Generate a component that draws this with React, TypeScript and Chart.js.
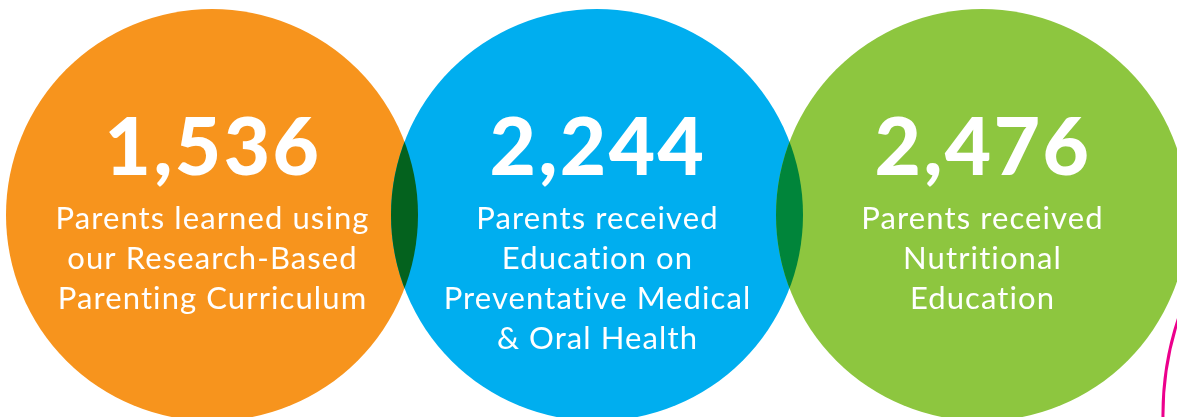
import React, { useEffect, useRef } from "react";
import { Chart, registerables } from "chart.js";

Chart.register(...registerables);

const values = [1536, 2244, 2476];
const captions = [
  ["Parents learned using", "our Research-Based", "Parenting Curriculum"],
  ["Parents received", "Education on", "Preventative Medical", "& Oral Health"],
  ["Parents received", "Nutritional", "Education"],
];
const circleColors = ["#F7941D", "#00AEEF", "#8DC63F"];
const overlapColors = ["#04621E", "#00853A"];
const ringColor = "#EC008C";

const W = 1177;
const H = 417;
const R = 206;
const STEP = 385;
const X0 = 212;
const CY = 215;

export default function App() {
  const ref = useRef<HTMLCanvasElement>(null);
  useEffect(() => {
    document.body.style.margin = "0";
    const xmin = -X0 / STEP;
    const xmax = xmin + W / STEP;
    const ymin = -1;
    const ymax = CY / (H - CY);
    const overlapPlugin = {
      id: "overlaps",
      afterDatasetsDraw(chart: any) {
        const ctx = chart.ctx;
        const meta = chart.getDatasetMeta(0);
        const pts = meta.data;
        for (let i = 0; i < pts.length - 1; i++) {
          const a = pts[i];
          const b = pts[i + 1];
          ctx.save();
          ctx.beginPath();
          ctx.arc(a.x, a.y, a.options.radius, 0, Math.PI * 2);
          ctx.clip();
          ctx.beginPath();
          ctx.arc(b.x, b.y, b.options.radius, 0, Math.PI * 2);
          ctx.fillStyle = overlapColors[i];
          ctx.fill();
          ctx.restore();
        }
        ctx.save();
        ctx.fillStyle = "#FFFFFF";
        ctx.textAlign = "center";
        ctx.textBaseline = "alphabetic";
        pts.forEach((p: any, i: number) => {
          ctx.font = "900 80px Lato";
          (ctx as any).letterSpacing = "2.5px";
          ctx.fillText(values[i].toLocaleString("en-US"), p.x + 1, p.y - 40);
          ctx.font = "400 31px Lato";
          (ctx as any).letterSpacing = "1.1px";
          captions[i].forEach((line, j) => {
            ctx.fillText(line, p.x + 0.5, p.y + 14 + j * 40);
          });
        });
        ctx.restore();
      },
    };
    const chart = new Chart(ref.current!, {
      type: "bubble",
      data: {
        datasets: [
          {
            data: values.map((v, i) => ({ x: i, y: 0, r: R })),
            backgroundColor: circleColors,
            borderWidth: 0,
            clip: false as any,
          },
          {
            data: [{ x: 3.27, y: -0.99, r: 308 }],
            backgroundColor: "rgba(0,0,0,0)",
            borderColor: ringColor,
            borderWidth: 3,
            clip: false as any,
          },
        ],
      },
      options: {
        animation: false,
        responsive: true,
        maintainAspectRatio: false,
        events: [],
        layout: { padding: 0, autoPadding: false },
        plugins: { legend: { display: false }, tooltip: { enabled: false } },
        scales: {
          x: { type: "linear", min: xmin, max: xmax, display: false },
          y: { type: "linear", min: ymin, max: ymax, display: false },
        },
      },
      plugins: [overlapPlugin],
    });
    return () => chart.destroy();
  }, []);
  return (
    <div style={{ position: "absolute", left: 0, top: 0, width: W, height: H }}>
      <canvas ref={ref} />
    </div>
  );
}
